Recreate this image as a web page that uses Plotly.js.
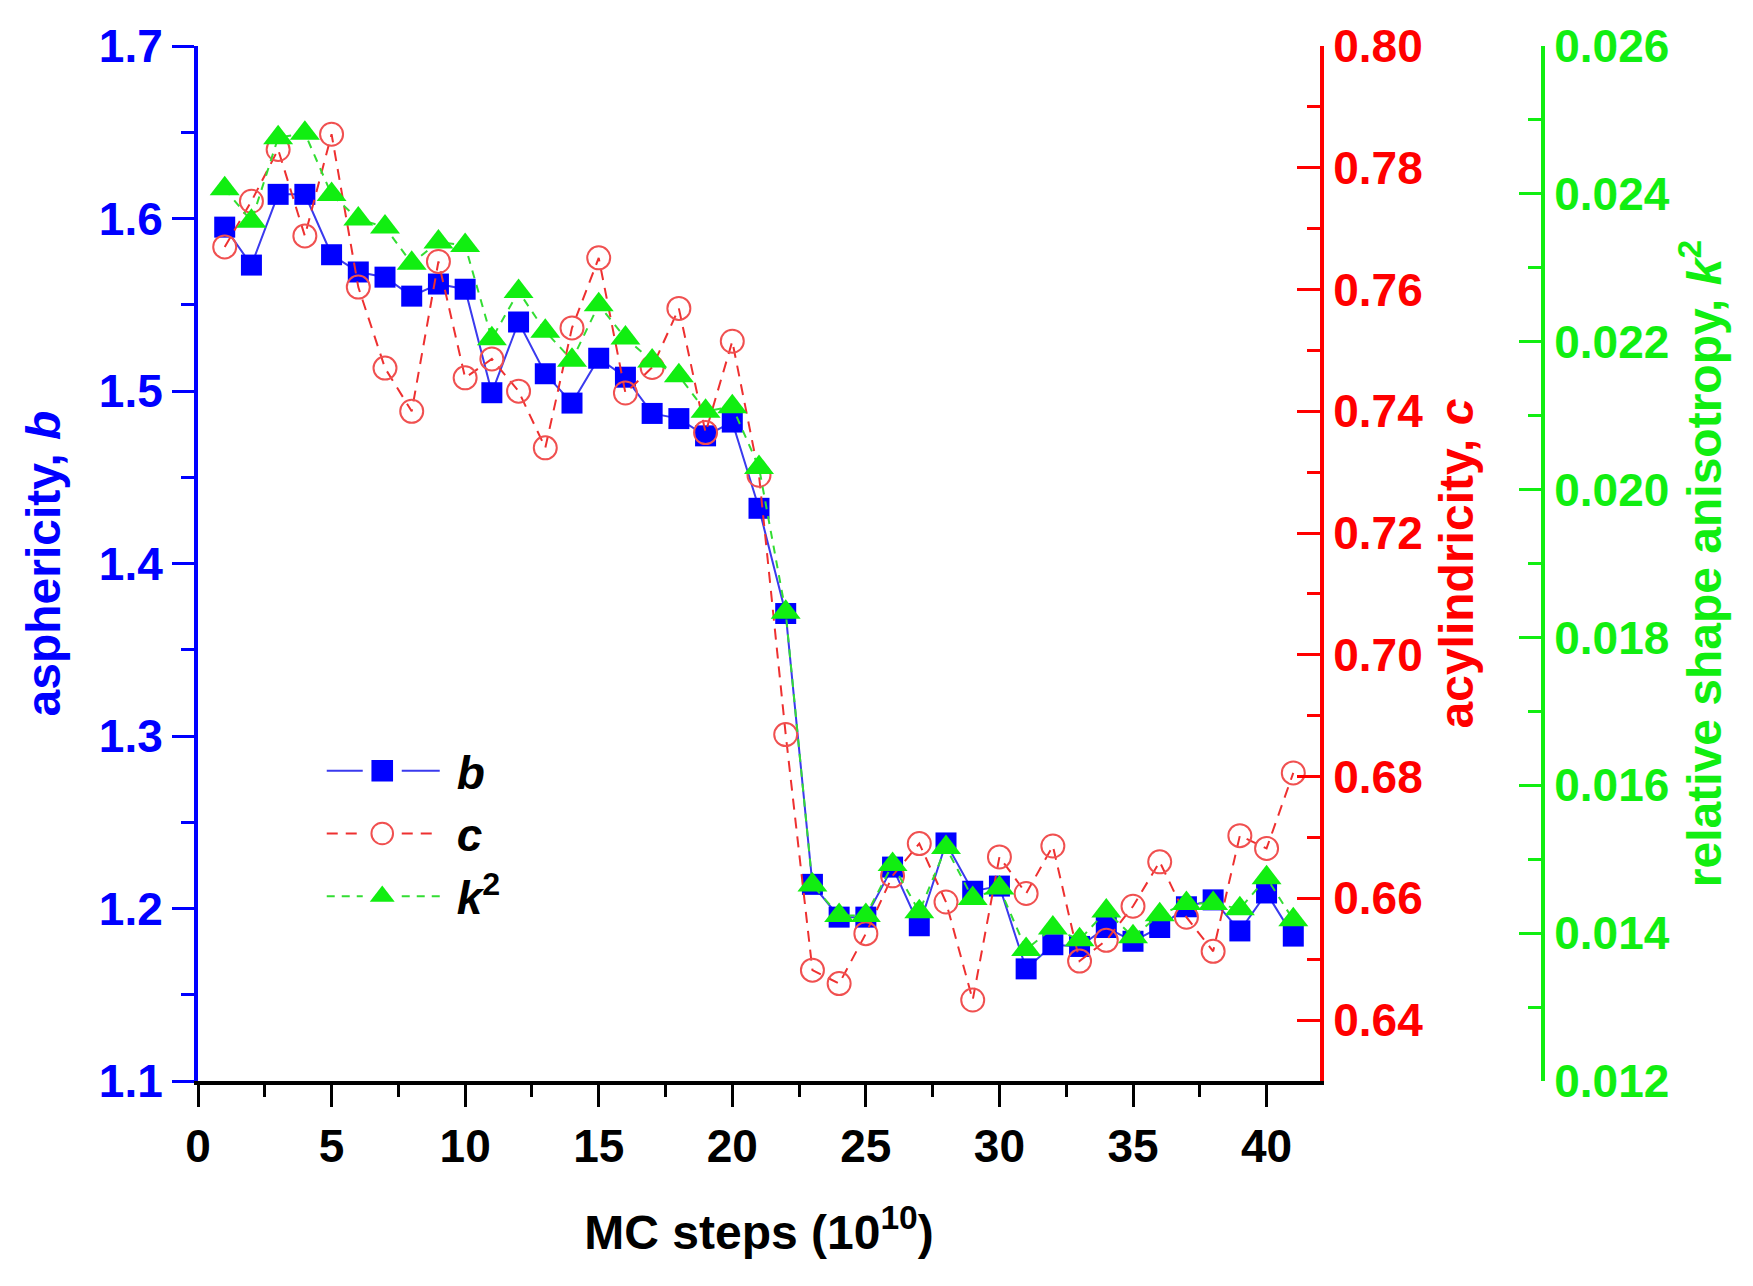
<!DOCTYPE html>
<html>
<head>
<meta charset="utf-8">
<script src="https://cdn.plot.ly/plotly-3.0.1.min.js"></script>
<style>
html,body{margin:0;padding:0;background:#ffffff;}
#chart{width:1753px;height:1286px;}
</style>
</head>
<body>
<div id="chart"></div>
<script>
// ---- data ----
const mcSteps = [1,2,3,4,5,6,7,8,9,10,11,12,13,14,15,16,17,18,19,20,21,22,23,24,25,26,27,28,29,30,31,32,33,34,35,36,37,38,39,40,41];

const asphericityB = [1.595,1.573,1.614,1.614,1.579,1.569,1.566,1.555,1.562,1.559,
                      1.499,1.540,1.510,1.493,1.519,1.508,1.487,1.484,1.474,1.482,
                      1.432,1.371,1.214,1.195,1.195,1.224,1.190,1.238,1.210,1.213,
                      1.165,1.179,1.178,1.189,1.181,1.189,1.201,1.205,1.187,1.209,1.184];

const acylindricityC = [0.7670,0.7745,0.7830,0.7688,0.7855,0.7604,0.7471,0.7400,0.7646,0.7455,
                        0.7486,0.7433,0.7340,0.7537,0.7652,0.7430,0.7472,0.7569,0.7365,0.7515,
                        0.7295,0.6869,0.6482,0.6460,0.6542,0.6637,0.6690,0.6594,0.6433,0.6668,
                        0.6608,0.6686,0.6497,0.6531,0.6587,0.6660,0.6569,0.6513,0.6703,0.6682,0.6806];

const anisotropyK2 = [0.02407,0.02363,0.02476,0.02482,0.02399,0.02366,0.02355,0.02306,0.02335,0.02330,
                      0.02204,0.02268,0.02214,0.02175,0.02250,0.02205,0.02174,0.02154,0.02106,0.02112,
                      0.02030,0.01834,0.01465,0.01424,0.01424,0.01493,0.01429,0.01516,0.01447,0.01461,
                      0.01378,0.01407,0.01391,0.01430,0.01395,0.01425,0.01440,0.01440,0.01433,0.01475,0.01418];

const seriesNames = ['<i>b</i>', '<i>c</i>', '<i>k</i><sup>2</sup>'];
const xTickVals = [0,5,10,15,20,25,30,35,40];
const yTickValsB = [1.1,1.2,1.3,1.4,1.5,1.6,1.7];
const yTickValsC = [0.64,0.66,0.68,0.70,0.72,0.74,0.76,0.78,0.80];
const yTickValsK = [0.012,0.014,0.016,0.018,0.020,0.022,0.024,0.026];

// ---- styles ----
const FONT = '"Liberation Sans", Arial, Helvetica, sans-serif';
const BLUE = '#0000ff', RED = '#ff0000', GREEN = '#11ee11';

const traces = [
  {
    x: mcSteps, y: asphericityB, name: seriesNames[0], type: 'scatter', mode: 'lines+markers',
    yaxis: 'y',
    line: {color: '#3a3aee', width: 2},
    marker: {symbol: 'square', size: 21, color: BLUE, line: {width: 0}}
  },
  {
    x: mcSteps, y: acylindricityC, name: seriesNames[1], type: 'scatter', mode: 'lines+markers',
    yaxis: 'y2',
    line: {color: '#ee3030', width: 2, dash: '11px,8px'},
    marker: {symbol: 'circle-open', size: 23, color: '#f05050', line: {width: 2, color: '#f05050'}}
  },
  {
    x: mcSteps, y: anisotropyK2, name: seriesNames[2], type: 'scatter', mode: 'lines+markers',
    yaxis: 'y3',
    line: {color: '#33dd33', width: 2, dash: '8px,7px'},
    marker: {symbol: 'triangle-up', size: 26, color: GREEN, line: {width: 0}}
  }
];

const tickFont = (c) => ({family: FONT, size: 46, color: c, weight: 700});
const titleFont = (c) => ({family: FONT, size: 48, color: c, weight: 700});

const layout = {
  width: 1753, height: 1286,
  margin: {l: 198, r: 210, t: 46, b: 205, pad: 0},
  paper_bgcolor: '#ffffff', plot_bgcolor: '#ffffff',
  showlegend: true,
  legend: {
    x: 0.092, y: 0.335, xanchor: 'left', yanchor: 'top',
    bgcolor: 'rgba(0,0,0,0)', borderwidth: 0,
    font: {family: FONT, size: 46, color: '#000000', weight: 700},
    tracegroupgap: 0, itemsizing: 'trace', itemwidth: 125
  },
  xaxis: {
    domain: [0, 1122/1345], range: [0, 42], anchor: 'y',
    tickmode: 'array', tickvals: xTickVals,
    ticks: 'outside', ticklen: 22, tickwidth: 3, tickcolor: '#000000',
    minor: {tickmode: 'linear', tick0: 0, dtick: 2.5, ticks: 'outside', ticklen: 12, tickwidth: 3, tickcolor: '#000000', showgrid: false},
    showline: true, linecolor: '#000000', linewidth: 4, mirror: false,
    showgrid: false, zeroline: false,
    tickfont: tickFont('#000000'),
    title: {text: 'MC steps (10<sup>10</sup>)', font: titleFont('#000000'), standoff: 45}
  },
  yaxis: {
    range: [1.1, 1.7], anchor: 'x', side: 'left',
    tickmode: 'array', tickvals: yTickValsB, tickformat: '.1f',
    ticks: 'outside', ticklen: 22, tickwidth: 3, tickcolor: BLUE,
    minor: {tickmode: 'linear', tick0: 1.1, dtick: 0.05, ticks: 'outside', ticklen: 13, tickwidth: 3, tickcolor: BLUE, showgrid: false},
    showline: true, linecolor: BLUE, linewidth: 4,
    showgrid: false, zeroline: false,
    tickfont: tickFont(BLUE),
    title: {text: 'asphericity, <i>b</i>', font: titleFont(BLUE), standoff: 24}
  },
  yaxis2: {
    range: [0.63, 0.80], anchor: 'x', overlaying: 'y', side: 'right',
    tickmode: 'array', tickvals: yTickValsC, tickformat: '.2f',
    ticks: 'inside', ticklen: 23, tickwidth: 3, tickcolor: RED,
    minor: {tickmode: 'linear', tick0: 0.63, dtick: 0.01, ticks: 'inside', ticklen: 13, tickwidth: 3, tickcolor: RED, showgrid: false},
    showline: true, linecolor: RED, linewidth: 4,
    showgrid: false, zeroline: false,
    tickfont: tickFont(RED),
    title: {text: 'acylindricity, <i>c</i>', font: titleFont(RED), standoff: 18}
  },
  yaxis3: {
    range: [0.012, 0.026], anchor: 'free', overlaying: 'y', side: 'right', position: 1,
    tickmode: 'array', tickvals: yTickValsK, tickformat: '.3f',
    ticks: 'inside', ticklen: 22, tickwidth: 3, tickcolor: GREEN,
    minor: {tickmode: 'linear', tick0: 0.012, dtick: 0.001, ticks: 'inside', ticklen: 13, tickwidth: 3, tickcolor: GREEN, showgrid: false},
    showline: true, linecolor: GREEN, linewidth: 4,
    showgrid: false, zeroline: false,
    tickfont: tickFont(GREEN),
    title: {text: 'relative shape anisotropy, <i>k</i><sup>2</sup>', font: titleFont(GREEN), standoff: 18}
  }
};

Plotly.newPlot('chart', traces, layout, {staticPlot: true, displayModeBar: false}).then(function (gd) {
  // Origin-style legend symbols: a long line broken around a larger marker
  gd.querySelectorAll('.legend .traces').forEach(function (item) {
    item.querySelectorAll('.legendlines path').forEach(function (p) {
      p.setAttribute('d', 'M5,0h36M80,0h38');
    });
    item.querySelectorAll('.legendpoints path').forEach(function (p) {
      p.setAttribute('transform', 'translate(60.5,0) scale(1.35)');
      p.style.vectorEffect = 'non-scaling-stroke';
    });
  });
});
</script>
</body>
</html>
